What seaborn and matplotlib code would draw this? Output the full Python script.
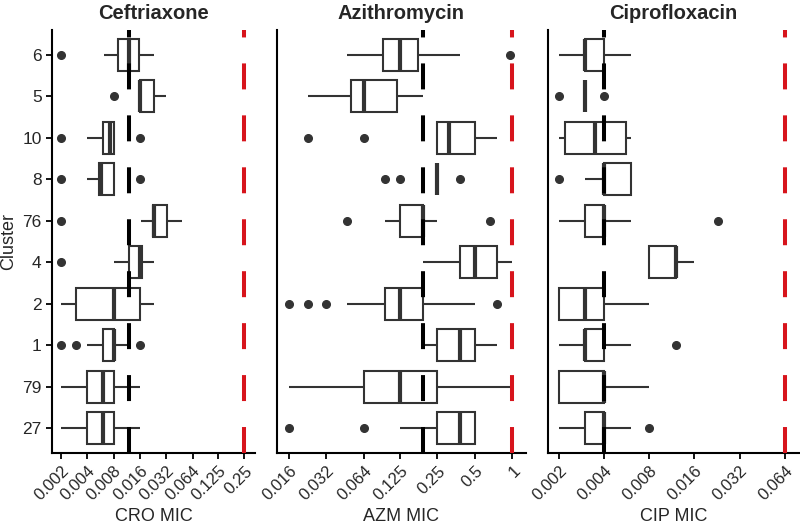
import matplotlib
matplotlib.use("Agg")
import matplotlib.pyplot as plt
from matplotlib.ticker import NullLocator
import pandas as pd
import seaborn as sns

# clusters, top to bottom
clusters = ["6", "5", "10", "8", "76", "4", "2", "1", "79", "27"]

# Ceftriaxone: whisker low, Q1, median, Q3, whisker high, outliers
cro_lo = [0.0062, 0.016, 0.004, 0.004, 0.0165, 0.008, 0.002, 0.004, 0.002, 0.002]
cro_q1 = [0.0089, 0.016, 0.006, 0.0054, 0.0224, 0.012, 0.003, 0.006, 0.004, 0.004]
cro_med = [0.012, 0.016, 0.0073, 0.0057, 0.023, 0.016, 0.008, 0.008, 0.006, 0.006]
cro_q3 = [0.0155, 0.023, 0.008, 0.008, 0.033, 0.017, 0.016, 0.008, 0.008, 0.008]
cro_hi = [0.023, 0.032, 0.008, 0.008, 0.048, 0.023, 0.023, 0.012, 0.016, 0.016]
cro_out = [[0.002], [0.008], [0.002, 0.016], [0.002, 0.016], [0.002], [0.002],
           [], [0.002, 0.003, 0.016], [], []]

# Azithromycin
azm_lo = [0.047, 0.023, 0.25, 0.25, 0.094, 0.19, 0.047, 0.19, 0.016, 0.125]
azm_q1 = [0.091, 0.0507, 0.25, 0.25, 0.125, 0.38, 0.094, 0.25, 0.064, 0.25]
azm_med = [0.125, 0.064, 0.31, 0.25, 0.19, 0.5, 0.125, 0.38, 0.125, 0.38]
azm_q3 = [0.175, 0.118, 0.5, 0.25, 0.19, 0.75, 0.19, 0.5, 0.25, 0.5]
azm_hi = [0.38, 0.19, 0.75, 0.25, 0.25, 1.0, 0.5, 0.75, 0.96, 0.5]
azm_out = [[0.96], [], [0.023, 0.064], [0.094, 0.125, 0.38], [0.047, 0.66], [],
           [0.016, 0.023, 0.032, 0.75], [], [], [0.016, 0.064]]

# Ciprofloxacin
cip_lo = [0.002, 0.003, 0.002, 0.003, 0.002, 0.008, 0.002, 0.002, 0.002, 0.002]
cip_q1 = [0.003, 0.003, 0.0022, 0.004, 0.003, 0.008, 0.002, 0.003, 0.002, 0.003]
cip_med = [0.003, 0.003, 0.0035, 0.004, 0.004, 0.012, 0.003, 0.003, 0.004, 0.004]
cip_q3 = [0.004, 0.003, 0.0056, 0.006, 0.004, 0.012, 0.004, 0.004, 0.004, 0.004]
cip_hi = [0.006, 0.003, 0.006, 0.006, 0.006, 0.016, 0.008, 0.006, 0.008, 0.006]
cip_out = [[], [0.002, 0.004], [], [0.002], [0.023], [], [], [0.012], [], [0.008]]

# reference lines (black) and breakpoints (red)
cro_ref, cro_bp = 0.012, 0.25
azm_ref, azm_bp = 0.19, 1.0
cip_ref, cip_bp = 0.004, 0.064

cro_ticks = [0.002, 0.004, 0.008, 0.016, 0.032, 0.064, 0.125, 0.25]
azm_ticks = [0.016, 0.032, 0.064, 0.125, 0.25, 0.5, 1]
cip_ticks = [0.002, 0.004, 0.008, 0.016, 0.032, 0.064]
cro_labels = ["0.002", "0.004", "0.008", "0.016", "0.032", "0.064", "0.125", "0.25"]
azm_labels = ["0.016", "0.032", "0.064", "0.125", "0.25", "0.5", "1"]
cip_labels = ["0.002", "0.004", "0.008", "0.016", "0.032", "0.064"]


def make_df(lo, q1, med, q3, hi, out):
    # blocks of repeated values so the box stats land on the read values
    rows = []
    for c, a, b, m, d, e, f in zip(clusters, lo, q1, med, q3, hi, out):
        vals = list(f) + [a] + [b] * 20 + [m] * 20 + [d] * 20 + [e]
        rows += [(c, v) for v in vals]
    return pd.DataFrame(rows, columns=["Cluster", "MIC"])


sns.set_style("ticks")
plt.rcParams["font.family"] = ["Liberation Sans", "DejaVu Sans"]
plt.rcParams["lines.scale_dashes"] = False

fig = plt.figure(figsize=(8, 5.28), dpi=100)
bottom, height = 0.142, 0.801
panels = [
    ("Ceftriaxone", "CRO MIC", make_df(cro_lo, cro_q1, cro_med, cro_q3, cro_hi, cro_out),
     cro_ticks, cro_labels, (0.00158, 0.333), cro_ref, cro_bp, 0.065, 0.254),
    ("Azithromycin", "AZM MIC", make_df(azm_lo, azm_q1, azm_med, azm_q3, azm_hi, azm_out),
     azm_ticks, azm_labels, (0.0128, 1.277), azm_ref, azm_bp, 0.346, 0.311),
    ("Ciprofloxacin", "CIP MIC", make_df(cip_lo, cip_q1, cip_med, cip_q3, cip_hi, cip_out),
     cip_ticks, cip_labels, (0.00169, 0.0799), cip_ref, cip_bp, 0.685, 0.314),
]

for i, (title, xlab, df, ticks, labels, lim, ref, bp, left, width) in enumerate(panels):
    ax = fig.add_axes([left, bottom, width, height])
    sns.boxplot(data=df, x="MIC", y="Cluster", order=clusters, orient="h",
                log_scale=2, color="white", linecolor="#333333", linewidth=1.5,
                width=0.77, showcaps=False, fliersize=5.5, saturation=1,
                flierprops=dict(marker="o", markerfacecolor="#333333",
                                markeredgecolor="#333333"),
                medianprops=dict(linewidth=3.0), ax=ax)
    ax.axvline(ref, color="black", lw=2.9, ls=(0, (18.7, 18.7)), zorder=5)
    ax.axvline(bp, color="#d7141c", lw=2.9, ls=(0, (18.7, 18.7)), zorder=5)
    ax.set_xlim(lim)
    ax.set_ylim(9.6, -0.6)
    ax.set_xticks(ticks)
    ax.set_xticklabels(labels, rotation=45, ha="right", va="top",
                       rotation_mode="anchor", fontsize=12)
    ax.xaxis.set_minor_locator(NullLocator())
    ax.set_xlabel(xlab, fontsize=13, labelpad=3)
    ax.set_title(title, fontsize=14.5, fontweight="bold", pad=8)
    if i == 0:
        ax.set_ylabel("Cluster", fontsize=13)
        ax.tick_params(axis="y", labelsize=12.5, length=4, width=1.3, color="black")
    else:
        ax.set_ylabel("")
        ax.tick_params(axis="y", left=False, labelleft=False)
    ax.tick_params(axis="x", length=4, width=1.3, color="black")
    sns.despine(ax=ax)
    for s in ["left", "bottom"]:
        ax.spines[s].set_linewidth(1.5)
        ax.spines[s].set_color("black")

fig.savefig("out.png", dpi=100)
